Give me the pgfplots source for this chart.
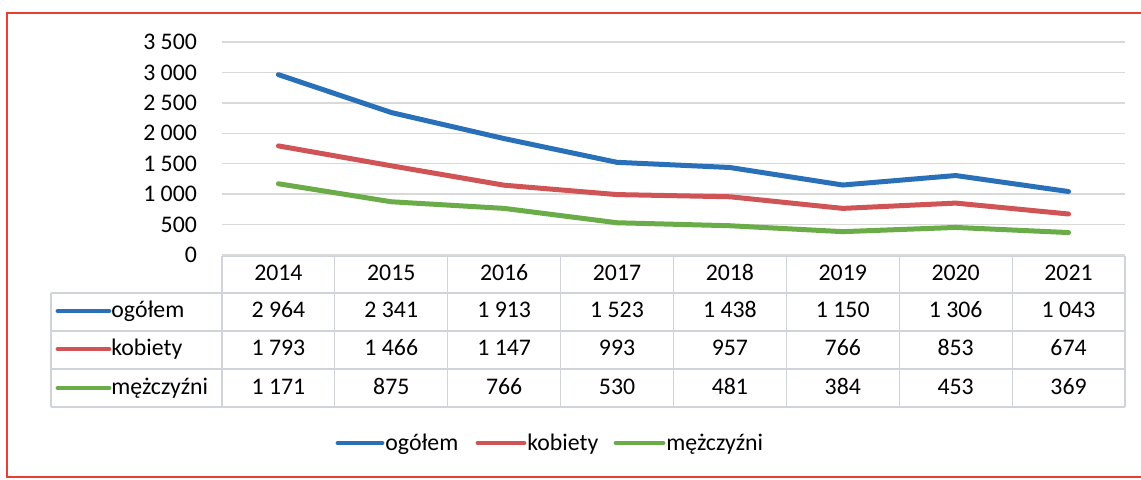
\documentclass[border=0pt]{standalone}
\usepackage{fontspec}
\setmainfont{Carlito}
\usepackage{pgfplots}
\pgfplotsset{compat=1.18}
\usepackage{pgfplotstable}
\definecolor{cblue}{RGB}{42,112,184}
\definecolor{cred}{RGB}{208,84,86}
\definecolor{cgreen}{RGB}{106,172,72}
\definecolor{gridc}{RGB}{217,217,217}
\definecolor{tabc}{RGB}{208,211,218}
\definecolor{framec}{RGB}{232,62,52}
\newcommand{\fs}{\fontsize{11.9}{14}\selectfont}
\pgfkeys{/pgf/number format/.cd,1000 sep={\ },assume math mode=true}

\pgfplotstableread{
year ogolem kobiety mezczyzni
0 2964 1793 1171
1 2341 1466 875
2 1913 1147 766
3 1523 993 530
4 1438 957 481
5 1150 766 384
6 1306 853 453
7 1043 674 369
}\data

\begin{document}
\begin{tikzpicture}[font=\fs]
\begin{scope}[x=0.5pt,y=-0.5pt, every node/.style={anchor=base, inner sep=0pt}]
\useasboundingbox (0,0) rectangle (1141,479);
\draw[framec, line width=1pt] (1141,13) -- (7,13) -- (7,477) -- (1141,477);
% table grid
\draw[tabc, line width=0.6pt] (222,256) -- (1125,256);
\foreach \yy in {293,331,369,407} \draw[tabc, line width=0.6pt] (51,\yy) -- (1125,\yy);
\draw[tabc, line width=0.6pt] (51,293) -- (51,407);
\foreach \k in {0,...,8} \draw[tabc, line width=0.6pt] ({222+112.875*\k},256) -- ({222+112.875*\k},407);
% header
\foreach \yr [count=\i from 0] in {2014,2015,2016,2017,2018,2019,2020,2021}
  \node at ({278.4+112.875*\i},280) {\yr};
\foreach \v [count=\i from 0] in {2964,2341,1913,1523,1438,1150,1306,1043}
  \node at ({278.4+112.875*\i},317.5) {\pgfmathprintnumber{\v}};
\foreach \v [count=\i from 0] in {1793,1466,1147,993,957,766,853,674}
  \node at ({278.4+112.875*\i},355.5) {\pgfmathprintnumber{\v}};
\foreach \v [count=\i from 0] in {1171,875,766,530,481,384,453,369}
  \node at ({278.4+112.875*\i},394) {\pgfmathprintnumber{\v}};
% row labels
\draw[cblue, line width=2.4pt, line cap=round] (58,311) -- (109,311);
\node[anchor=base west] at (111,317.5) {ogółem};
\draw[cred, line width=2.4pt, line cap=round] (58,349) -- (109,349);
\node[anchor=base west] at (111,355.5) {kobiety};
\draw[cgreen, line width=2.4pt, line cap=round] (58,388) -- (109,388);
\node[anchor=base west] at (111,394) {mężczyźni};
% legend
\draw[cblue, line width=2.4pt, line cap=round] (338,443) -- (382,443);
\node[anchor=base west] at (385,450) {ogółem};
\draw[cred, line width=2.4pt, line cap=round] (478,443) -- (524,443);
\node[anchor=base west] at (527,450) {kobiety};
\draw[cgreen, line width=2.4pt, line cap=round] (616,443) -- (663,443);
\node[anchor=base west] at (666,450) {mężczyźni};
\end{scope}
\begin{axis}[
  at={(111pt,-127.5pt)}, anchor=south west,
  scale only axis, width=451.5pt, height=106.5pt,
  xmin=-0.5, xmax=7.5, ymin=0, ymax=3500,
  ytick={0,500,...,3500}, xtick=\empty,
  axis line style={draw=none},
  major tick length=0pt,
  ymajorgrids, grid style={gridc, line width=0.7pt},
  yticklabel style={font=\fs, anchor=east, xshift=-9pt},
  clip=false,
]
\addplot[cblue, line width=2.5pt, line join=round, line cap=round] table[x=year,y=ogolem]{\data};
\addplot[cred, line width=2.5pt, line join=round, line cap=round] table[x=year,y=kobiety]{\data};
\addplot[cgreen, line width=2.5pt, line join=round, line cap=round] table[x=year,y=mezczyzni]{\data};
\end{axis}
\end{tikzpicture}
\end{document}
